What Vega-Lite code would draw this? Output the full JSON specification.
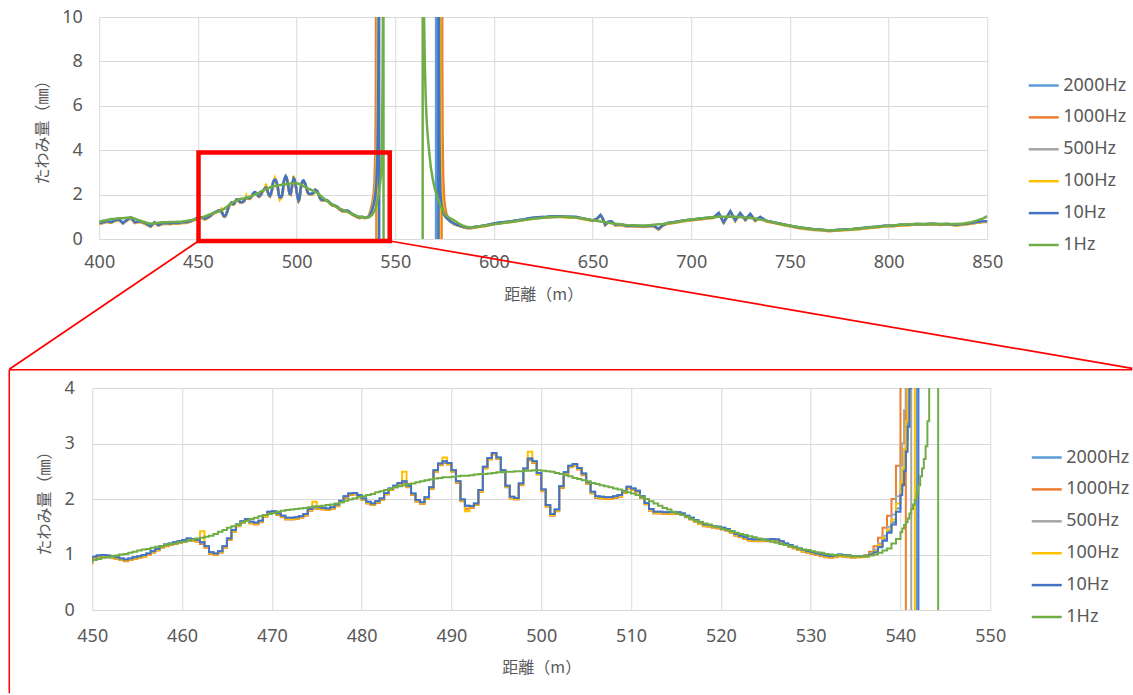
{
"$schema": "https://vega.github.io/schema/vega-lite/v6.json",
"autosize": {"type": "pad"},
"padding": {"left": 8.25, "top": 8, "right": 0, "bottom": 0},
"background": "white",
"config": {
  "view": {"stroke": null},
  "font": "Noto Sans",
  "axis": {"grid": true, "gridColor": "#D9D9D9", "gridWidth": 1, "domain": false, "ticks": false, "labelFlush": false, "labelFont": "Noto Sans", "labelFontSize": 18, "labelColor": "#595959", "titleFont": "Noto Sans CJK JP", "titleFontSize": 16, "titleFontWeight": "normal", "titleColor": "#595959"},
  "legend": {"symbolType": "stroke", "symbolSize": 900, "symbolStrokeWidth": 2.5, "labelFont": "Noto Sans", "labelFontSize": 18, "labelColor": "#595959", "labelOffset": 3, "rowPadding": 5.9, "padding": 0}
},
"datasets": {"main": [
{"d":400,"2000Hz":0.72,"1000Hz":0.69,"500Hz":0.71,"100Hz":0.70,"10Hz":0.72,"1Hz":0.78},
{"d":402,"2000Hz":0.75,"1000Hz":0.72,"500Hz":0.74,"100Hz":0.73,"10Hz":0.75,"1Hz":0.82},
{"d":404,"2000Hz":0.80,"1000Hz":0.77,"500Hz":0.79,"100Hz":0.78,"10Hz":0.80,"1Hz":0.86},
{"d":406,"2000Hz":0.76,"1000Hz":0.73,"500Hz":0.75,"100Hz":0.74,"10Hz":0.76,"1Hz":0.90},
{"d":408,"2000Hz":0.84,"1000Hz":0.81,"500Hz":0.83,"100Hz":0.82,"10Hz":0.84,"1Hz":0.91},
{"d":410,"2000Hz":0.88,"1000Hz":0.85,"500Hz":0.87,"100Hz":0.86,"10Hz":0.88,"1Hz":0.93},
{"d":412,"2000Hz":0.72,"1000Hz":0.69,"500Hz":0.71,"100Hz":0.70,"10Hz":0.72,"1Hz":0.93},
{"d":414,"2000Hz":0.86,"1000Hz":0.83,"500Hz":0.85,"100Hz":0.84,"10Hz":0.86,"1Hz":0.96},
{"d":416,"2000Hz":0.97,"1000Hz":0.94,"500Hz":0.96,"100Hz":0.95,"10Hz":0.97,"1Hz":0.98},
{"d":418,"2000Hz":0.75,"1000Hz":0.72,"500Hz":0.74,"100Hz":0.73,"10Hz":0.75,"1Hz":0.92},
{"d":420,"2000Hz":0.80,"1000Hz":0.77,"500Hz":0.79,"100Hz":0.78,"10Hz":0.80,"1Hz":0.85},
{"d":422,"2000Hz":0.76,"1000Hz":0.73,"500Hz":0.75,"100Hz":0.74,"10Hz":0.76,"1Hz":0.79},
{"d":424,"2000Hz":0.68,"1000Hz":0.65,"500Hz":0.67,"100Hz":0.66,"10Hz":0.68,"1Hz":0.73},
{"d":426,"2000Hz":0.58,"1000Hz":0.55,"500Hz":0.57,"100Hz":0.56,"10Hz":0.58,"1Hz":0.69},
{"d":428,"2000Hz":0.75,"1000Hz":0.72,"500Hz":0.74,"100Hz":0.73,"10Hz":0.75,"1Hz":0.71},
{"d":430,"2000Hz":0.63,"1000Hz":0.60,"500Hz":0.62,"100Hz":0.61,"10Hz":0.63,"1Hz":0.73},
{"d":432,"2000Hz":0.70,"1000Hz":0.67,"500Hz":0.69,"100Hz":0.68,"10Hz":0.70,"1Hz":0.75},
{"d":434,"2000Hz":0.72,"1000Hz":0.69,"500Hz":0.71,"100Hz":0.70,"10Hz":0.72,"1Hz":0.76},
{"d":436,"2000Hz":0.70,"1000Hz":0.67,"500Hz":0.69,"100Hz":0.68,"10Hz":0.70,"1Hz":0.77},
{"d":438,"2000Hz":0.73,"1000Hz":0.70,"500Hz":0.72,"100Hz":0.71,"10Hz":0.73,"1Hz":0.77},
{"d":440,"2000Hz":0.72,"1000Hz":0.69,"500Hz":0.71,"100Hz":0.70,"10Hz":0.72,"1Hz":0.78},
{"d":442,"2000Hz":0.75,"1000Hz":0.72,"500Hz":0.74,"100Hz":0.73,"10Hz":0.75,"1Hz":0.79},
{"d":444,"2000Hz":0.75,"1000Hz":0.72,"500Hz":0.74,"100Hz":0.73,"10Hz":0.75,"1Hz":0.81},
{"d":446,"2000Hz":0.80,"1000Hz":0.77,"500Hz":0.79,"100Hz":0.78,"10Hz":0.80,"1Hz":0.84},
{"d":448,"2000Hz":0.87,"1000Hz":0.84,"500Hz":0.86,"100Hz":0.85,"10Hz":0.87,"1Hz":0.87},
{"d":450.0,"2000Hz":0.96,"1000Hz":0.93,"500Hz":0.95,"100Hz":0.94,"10Hz":0.96,"1Hz":0.90},
{"d":450.5,"2000Hz":0.98,"1000Hz":0.95,"500Hz":0.97,"100Hz":0.96,"10Hz":0.98,"1Hz":0.92},
{"d":451.0,"2000Hz":0.99,"1000Hz":0.96,"500Hz":0.98,"100Hz":0.97,"10Hz":0.99,"1Hz":0.94},
{"d":451.5,"2000Hz":0.98,"1000Hz":0.95,"500Hz":0.97,"100Hz":0.96,"10Hz":0.98,"1Hz":0.95},
{"d":452.0,"2000Hz":0.97,"1000Hz":0.94,"500Hz":0.96,"100Hz":0.95,"10Hz":0.97,"1Hz":0.97},
{"d":452.5,"2000Hz":0.95,"1000Hz":0.92,"500Hz":0.94,"100Hz":0.93,"10Hz":0.95,"1Hz":0.98},
{"d":453.0,"2000Hz":0.93,"1000Hz":0.90,"500Hz":0.92,"100Hz":0.91,"10Hz":0.93,"1Hz":1.00},
{"d":453.5,"2000Hz":0.91,"1000Hz":0.88,"500Hz":0.90,"100Hz":0.89,"10Hz":0.91,"1Hz":1.01},
{"d":454.0,"2000Hz":0.93,"1000Hz":0.90,"500Hz":0.92,"100Hz":0.91,"10Hz":0.93,"1Hz":1.03},
{"d":454.5,"2000Hz":0.95,"1000Hz":0.92,"500Hz":0.94,"100Hz":0.93,"10Hz":0.95,"1Hz":1.05},
{"d":455.0,"2000Hz":0.97,"1000Hz":0.94,"500Hz":0.96,"100Hz":0.95,"10Hz":0.97,"1Hz":1.07},
{"d":455.5,"2000Hz":0.99,"1000Hz":0.96,"500Hz":0.98,"100Hz":0.97,"10Hz":0.99,"1Hz":1.09},
{"d":456.0,"2000Hz":1.02,"1000Hz":0.99,"500Hz":1.01,"100Hz":1.00,"10Hz":1.02,"1Hz":1.10},
{"d":456.5,"2000Hz":1.06,"1000Hz":1.03,"500Hz":1.05,"100Hz":1.04,"10Hz":1.06,"1Hz":1.12},
{"d":457.0,"2000Hz":1.10,"1000Hz":1.07,"500Hz":1.09,"100Hz":1.08,"10Hz":1.10,"1Hz":1.14},
{"d":457.5,"2000Hz":1.15,"1000Hz":1.12,"500Hz":1.14,"100Hz":1.13,"10Hz":1.15,"1Hz":1.15},
{"d":458.0,"2000Hz":1.18,"1000Hz":1.15,"500Hz":1.17,"100Hz":1.16,"10Hz":1.18,"1Hz":1.17},
{"d":458.5,"2000Hz":1.20,"1000Hz":1.17,"500Hz":1.19,"100Hz":1.18,"10Hz":1.20,"1Hz":1.19},
{"d":459.0,"2000Hz":1.22,"1000Hz":1.19,"500Hz":1.21,"100Hz":1.20,"10Hz":1.22,"1Hz":1.20},
{"d":459.5,"2000Hz":1.24,"1000Hz":1.21,"500Hz":1.23,"100Hz":1.22,"10Hz":1.24,"1Hz":1.22},
{"d":460.0,"2000Hz":1.26,"1000Hz":1.23,"500Hz":1.25,"100Hz":1.24,"10Hz":1.26,"1Hz":1.23},
{"d":460.5,"2000Hz":1.29,"1000Hz":1.26,"500Hz":1.28,"100Hz":1.27,"10Hz":1.29,"1Hz":1.25},
{"d":461.0,"2000Hz":1.28,"1000Hz":1.25,"500Hz":1.27,"100Hz":1.26,"10Hz":1.28,"1Hz":1.27},
{"d":461.5,"2000Hz":1.26,"1000Hz":1.23,"500Hz":1.25,"100Hz":1.24,"10Hz":1.26,"1Hz":1.29},
{"d":462.0,"2000Hz":1.22,"1000Hz":1.19,"500Hz":1.21,"100Hz":1.42,"10Hz":1.22,"1Hz":1.30},
{"d":462.5,"2000Hz":1.15,"1000Hz":1.12,"500Hz":1.14,"100Hz":1.13,"10Hz":1.15,"1Hz":1.32},
{"d":463.0,"2000Hz":1.04,"1000Hz":1.01,"500Hz":1.03,"100Hz":1.02,"10Hz":1.04,"1Hz":1.34},
{"d":463.5,"2000Hz":1.02,"1000Hz":0.99,"500Hz":1.01,"100Hz":1.00,"10Hz":1.02,"1Hz":1.37},
{"d":464.0,"2000Hz":1.06,"1000Hz":1.03,"500Hz":1.05,"100Hz":1.04,"10Hz":1.06,"1Hz":1.41},
{"d":464.5,"2000Hz":1.15,"1000Hz":1.12,"500Hz":1.14,"100Hz":1.13,"10Hz":1.15,"1Hz":1.44},
{"d":465.0,"2000Hz":1.29,"1000Hz":1.26,"500Hz":1.28,"100Hz":1.27,"10Hz":1.29,"1Hz":1.48},
{"d":465.5,"2000Hz":1.44,"1000Hz":1.41,"500Hz":1.43,"100Hz":1.42,"10Hz":1.44,"1Hz":1.51},
{"d":466.0,"2000Hz":1.54,"1000Hz":1.51,"500Hz":1.53,"100Hz":1.52,"10Hz":1.54,"1Hz":1.54},
{"d":466.5,"2000Hz":1.60,"1000Hz":1.57,"500Hz":1.59,"100Hz":1.58,"10Hz":1.60,"1Hz":1.58},
{"d":467.0,"2000Hz":1.64,"1000Hz":1.61,"500Hz":1.63,"100Hz":1.62,"10Hz":1.64,"1Hz":1.61},
{"d":467.5,"2000Hz":1.59,"1000Hz":1.56,"500Hz":1.58,"100Hz":1.57,"10Hz":1.59,"1Hz":1.64},
{"d":468.0,"2000Hz":1.57,"1000Hz":1.54,"500Hz":1.56,"100Hz":1.55,"10Hz":1.57,"1Hz":1.66},
{"d":468.5,"2000Hz":1.61,"1000Hz":1.58,"500Hz":1.60,"100Hz":1.59,"10Hz":1.61,"1Hz":1.69},
{"d":469.0,"2000Hz":1.71,"1000Hz":1.68,"500Hz":1.70,"100Hz":1.69,"10Hz":1.71,"1Hz":1.71},
{"d":469.5,"2000Hz":1.77,"1000Hz":1.74,"500Hz":1.76,"100Hz":1.75,"10Hz":1.77,"1Hz":1.73},
{"d":470.0,"2000Hz":1.78,"1000Hz":1.75,"500Hz":1.77,"100Hz":1.76,"10Hz":1.78,"1Hz":1.75},
{"d":470.5,"2000Hz":1.74,"1000Hz":1.71,"500Hz":1.73,"100Hz":1.72,"10Hz":1.74,"1Hz":1.77},
{"d":471.0,"2000Hz":1.70,"1000Hz":1.67,"500Hz":1.69,"100Hz":1.68,"10Hz":1.70,"1Hz":1.79},
{"d":471.5,"2000Hz":1.66,"1000Hz":1.63,"500Hz":1.65,"100Hz":1.64,"10Hz":1.66,"1Hz":1.80},
{"d":472.0,"2000Hz":1.66,"1000Hz":1.63,"500Hz":1.65,"100Hz":1.64,"10Hz":1.66,"1Hz":1.81},
{"d":472.5,"2000Hz":1.67,"1000Hz":1.64,"500Hz":1.66,"100Hz":1.65,"10Hz":1.67,"1Hz":1.82},
{"d":473.0,"2000Hz":1.69,"1000Hz":1.66,"500Hz":1.68,"100Hz":1.67,"10Hz":1.69,"1Hz":1.83},
{"d":473.5,"2000Hz":1.73,"1000Hz":1.70,"500Hz":1.72,"100Hz":1.71,"10Hz":1.73,"1Hz":1.84},
{"d":474.0,"2000Hz":1.82,"1000Hz":1.79,"500Hz":1.81,"100Hz":1.80,"10Hz":1.82,"1Hz":1.85},
{"d":474.5,"2000Hz":1.86,"1000Hz":1.83,"500Hz":1.85,"100Hz":1.95,"10Hz":1.86,"1Hz":1.86},
{"d":475.0,"2000Hz":1.85,"1000Hz":1.82,"500Hz":1.84,"100Hz":1.83,"10Hz":1.85,"1Hz":1.87},
{"d":475.5,"2000Hz":1.84,"1000Hz":1.81,"500Hz":1.83,"100Hz":1.82,"10Hz":1.84,"1Hz":1.88},
{"d":476.0,"2000Hz":1.83,"1000Hz":1.80,"500Hz":1.82,"100Hz":1.81,"10Hz":1.83,"1Hz":1.89},
{"d":476.5,"2000Hz":1.85,"1000Hz":1.82,"500Hz":1.84,"100Hz":1.83,"10Hz":1.85,"1Hz":1.90},
{"d":477.0,"2000Hz":1.90,"1000Hz":1.87,"500Hz":1.89,"100Hz":1.88,"10Hz":1.90,"1Hz":1.92},
{"d":477.5,"2000Hz":1.97,"1000Hz":1.94,"500Hz":1.96,"100Hz":1.95,"10Hz":1.97,"1Hz":1.94},
{"d":478.0,"2000Hz":2.05,"1000Hz":2.02,"500Hz":2.04,"100Hz":2.03,"10Hz":2.05,"1Hz":1.97},
{"d":478.5,"2000Hz":2.10,"1000Hz":2.07,"500Hz":2.09,"100Hz":2.08,"10Hz":2.10,"1Hz":1.99},
{"d":479.0,"2000Hz":2.11,"1000Hz":2.08,"500Hz":2.10,"100Hz":2.09,"10Hz":2.11,"1Hz":2.01},
{"d":479.5,"2000Hz":2.07,"1000Hz":2.04,"500Hz":2.06,"100Hz":2.05,"10Hz":2.07,"1Hz":2.03},
{"d":480.0,"2000Hz":2.01,"1000Hz":1.98,"500Hz":2.00,"100Hz":1.99,"10Hz":2.01,"1Hz":2.05},
{"d":480.5,"2000Hz":1.95,"1000Hz":1.92,"500Hz":1.94,"100Hz":1.93,"10Hz":1.95,"1Hz":2.07},
{"d":481.0,"2000Hz":1.92,"1000Hz":1.89,"500Hz":1.91,"100Hz":1.90,"10Hz":1.92,"1Hz":2.09},
{"d":481.5,"2000Hz":1.96,"1000Hz":1.93,"500Hz":1.95,"100Hz":1.94,"10Hz":1.96,"1Hz":2.12},
{"d":482.0,"2000Hz":2.01,"1000Hz":1.98,"500Hz":2.00,"100Hz":1.99,"10Hz":2.01,"1Hz":2.14},
{"d":482.5,"2000Hz":2.11,"1000Hz":2.08,"500Hz":2.10,"100Hz":2.09,"10Hz":2.11,"1Hz":2.16},
{"d":483.0,"2000Hz":2.19,"1000Hz":2.16,"500Hz":2.18,"100Hz":2.17,"10Hz":2.19,"1Hz":2.18},
{"d":483.5,"2000Hz":2.24,"1000Hz":2.21,"500Hz":2.23,"100Hz":2.22,"10Hz":2.24,"1Hz":2.21},
{"d":484.0,"2000Hz":2.29,"1000Hz":2.26,"500Hz":2.28,"100Hz":2.27,"10Hz":2.29,"1Hz":2.23},
{"d":484.5,"2000Hz":2.32,"1000Hz":2.29,"500Hz":2.31,"100Hz":2.49,"10Hz":2.32,"1Hz":2.25},
{"d":485.0,"2000Hz":2.24,"1000Hz":2.21,"500Hz":2.23,"100Hz":2.22,"10Hz":2.24,"1Hz":2.27},
{"d":485.5,"2000Hz":2.10,"1000Hz":2.07,"500Hz":2.09,"100Hz":2.08,"10Hz":2.10,"1Hz":2.28},
{"d":486.0,"2000Hz":1.98,"1000Hz":1.95,"500Hz":1.97,"100Hz":1.96,"10Hz":1.98,"1Hz":2.30},
{"d":486.5,"2000Hz":1.94,"1000Hz":1.91,"500Hz":1.93,"100Hz":1.92,"10Hz":1.94,"1Hz":2.32},
{"d":487.0,"2000Hz":2.03,"1000Hz":2.00,"500Hz":2.02,"100Hz":2.01,"10Hz":2.03,"1Hz":2.34},
{"d":487.5,"2000Hz":2.21,"1000Hz":2.18,"500Hz":2.20,"100Hz":2.19,"10Hz":2.21,"1Hz":2.35},
{"d":488.0,"2000Hz":2.52,"1000Hz":2.49,"500Hz":2.51,"100Hz":2.50,"10Hz":2.52,"1Hz":2.37},
{"d":488.5,"2000Hz":2.64,"1000Hz":2.61,"500Hz":2.63,"100Hz":2.62,"10Hz":2.64,"1Hz":2.38},
{"d":489.0,"2000Hz":2.68,"1000Hz":2.65,"500Hz":2.67,"100Hz":2.75,"10Hz":2.68,"1Hz":2.39},
{"d":489.5,"2000Hz":2.65,"1000Hz":2.62,"500Hz":2.64,"100Hz":2.63,"10Hz":2.65,"1Hz":2.39},
{"d":490.0,"2000Hz":2.52,"1000Hz":2.49,"500Hz":2.51,"100Hz":2.50,"10Hz":2.52,"1Hz":2.40},
{"d":490.5,"2000Hz":2.32,"1000Hz":2.29,"500Hz":2.31,"100Hz":2.30,"10Hz":2.32,"1Hz":2.41},
{"d":491.0,"2000Hz":1.99,"1000Hz":1.96,"500Hz":1.98,"100Hz":1.97,"10Hz":1.99,"1Hz":2.42},
{"d":491.5,"2000Hz":1.88,"1000Hz":1.82,"500Hz":1.87,"100Hz":1.78,"10Hz":1.88,"1Hz":2.42},
{"d":492.0,"2000Hz":1.87,"1000Hz":1.84,"500Hz":1.86,"100Hz":1.85,"10Hz":1.87,"1Hz":2.43},
{"d":492.5,"2000Hz":1.92,"1000Hz":1.89,"500Hz":1.91,"100Hz":1.90,"10Hz":1.92,"1Hz":2.44},
{"d":493.0,"2000Hz":2.16,"1000Hz":2.13,"500Hz":2.15,"100Hz":2.14,"10Hz":2.16,"1Hz":2.45},
{"d":493.5,"2000Hz":2.58,"1000Hz":2.55,"500Hz":2.57,"100Hz":2.56,"10Hz":2.58,"1Hz":2.45},
{"d":494.0,"2000Hz":2.74,"1000Hz":2.71,"500Hz":2.73,"100Hz":2.72,"10Hz":2.74,"1Hz":2.46},
{"d":494.5,"2000Hz":2.83,"1000Hz":2.80,"500Hz":2.82,"100Hz":2.81,"10Hz":2.83,"1Hz":2.47},
{"d":495.0,"2000Hz":2.75,"1000Hz":2.72,"500Hz":2.74,"100Hz":2.73,"10Hz":2.75,"1Hz":2.48},
{"d":495.5,"2000Hz":2.52,"1000Hz":2.49,"500Hz":2.51,"100Hz":2.50,"10Hz":2.52,"1Hz":2.48},
{"d":496.0,"2000Hz":2.24,"1000Hz":2.21,"500Hz":2.23,"100Hz":2.22,"10Hz":2.24,"1Hz":2.49},
{"d":496.5,"2000Hz":2.04,"1000Hz":2.01,"500Hz":2.03,"100Hz":2.02,"10Hz":2.04,"1Hz":2.49},
{"d":497.0,"2000Hz":2.02,"1000Hz":1.99,"500Hz":2.01,"100Hz":2.00,"10Hz":2.02,"1Hz":2.50},
{"d":497.5,"2000Hz":2.28,"1000Hz":2.25,"500Hz":2.27,"100Hz":2.26,"10Hz":2.28,"1Hz":2.50},
{"d":498.0,"2000Hz":2.55,"1000Hz":2.52,"500Hz":2.54,"100Hz":2.53,"10Hz":2.55,"1Hz":2.51},
{"d":498.5,"2000Hz":2.73,"1000Hz":2.70,"500Hz":2.72,"100Hz":2.85,"10Hz":2.73,"1Hz":2.51},
{"d":499.0,"2000Hz":2.68,"1000Hz":2.65,"500Hz":2.67,"100Hz":2.66,"10Hz":2.68,"1Hz":2.52},
{"d":499.5,"2000Hz":2.47,"1000Hz":2.44,"500Hz":2.46,"100Hz":2.45,"10Hz":2.47,"1Hz":2.52},
{"d":500.0,"2000Hz":2.17,"1000Hz":2.14,"500Hz":2.16,"100Hz":2.15,"10Hz":2.17,"1Hz":2.51},
{"d":500.5,"2000Hz":1.89,"1000Hz":1.86,"500Hz":1.88,"100Hz":1.87,"10Hz":1.89,"1Hz":2.50},
{"d":501.0,"2000Hz":1.73,"1000Hz":1.70,"500Hz":1.72,"100Hz":1.71,"10Hz":1.73,"1Hz":2.49},
{"d":501.5,"2000Hz":1.81,"1000Hz":1.78,"500Hz":1.80,"100Hz":1.79,"10Hz":1.81,"1Hz":2.47},
{"d":502.0,"2000Hz":2.23,"1000Hz":2.20,"500Hz":2.22,"100Hz":2.21,"10Hz":2.23,"1Hz":2.45},
{"d":502.5,"2000Hz":2.48,"1000Hz":2.45,"500Hz":2.47,"100Hz":2.46,"10Hz":2.48,"1Hz":2.43},
{"d":503.0,"2000Hz":2.60,"1000Hz":2.57,"500Hz":2.59,"100Hz":2.58,"10Hz":2.60,"1Hz":2.41},
{"d":503.5,"2000Hz":2.63,"1000Hz":2.60,"500Hz":2.62,"100Hz":2.61,"10Hz":2.63,"1Hz":2.38},
{"d":504.0,"2000Hz":2.56,"1000Hz":2.53,"500Hz":2.55,"100Hz":2.54,"10Hz":2.56,"1Hz":2.36},
{"d":504.5,"2000Hz":2.46,"1000Hz":2.43,"500Hz":2.45,"100Hz":2.44,"10Hz":2.46,"1Hz":2.34},
{"d":505.0,"2000Hz":2.30,"1000Hz":2.27,"500Hz":2.29,"100Hz":2.28,"10Hz":2.30,"1Hz":2.32},
{"d":505.5,"2000Hz":2.13,"1000Hz":2.10,"500Hz":2.12,"100Hz":2.11,"10Hz":2.13,"1Hz":2.29},
{"d":506.0,"2000Hz":2.05,"1000Hz":2.02,"500Hz":2.04,"100Hz":2.03,"10Hz":2.05,"1Hz":2.27},
{"d":506.5,"2000Hz":2.04,"1000Hz":2.01,"500Hz":2.03,"100Hz":2.02,"10Hz":2.04,"1Hz":2.25},
{"d":507.0,"2000Hz":2.03,"1000Hz":2.00,"500Hz":2.02,"100Hz":2.01,"10Hz":2.03,"1Hz":2.23},
{"d":507.5,"2000Hz":2.03,"1000Hz":2.00,"500Hz":2.02,"100Hz":2.01,"10Hz":2.03,"1Hz":2.21},
{"d":508.0,"2000Hz":2.05,"1000Hz":2.02,"500Hz":2.04,"100Hz":2.03,"10Hz":2.05,"1Hz":2.19},
{"d":508.5,"2000Hz":2.07,"1000Hz":2.04,"500Hz":2.06,"100Hz":2.05,"10Hz":2.07,"1Hz":2.17},
{"d":509.0,"2000Hz":2.14,"1000Hz":2.11,"500Hz":2.13,"100Hz":2.12,"10Hz":2.14,"1Hz":2.15},
{"d":509.5,"2000Hz":2.22,"1000Hz":2.19,"500Hz":2.21,"100Hz":2.20,"10Hz":2.22,"1Hz":2.12},
{"d":510.0,"2000Hz":2.19,"1000Hz":2.16,"500Hz":2.18,"100Hz":2.17,"10Hz":2.19,"1Hz":2.10},
{"d":510.5,"2000Hz":2.15,"1000Hz":2.12,"500Hz":2.14,"100Hz":2.13,"10Hz":2.15,"1Hz":2.07},
{"d":511.0,"2000Hz":2.05,"1000Hz":2.02,"500Hz":2.04,"100Hz":2.03,"10Hz":2.05,"1Hz":2.03},
{"d":511.5,"2000Hz":1.93,"1000Hz":1.90,"500Hz":1.92,"100Hz":1.91,"10Hz":1.93,"1Hz":2.00},
{"d":512.0,"2000Hz":1.82,"1000Hz":1.79,"500Hz":1.81,"100Hz":1.80,"10Hz":1.82,"1Hz":1.96},
{"d":512.5,"2000Hz":1.77,"1000Hz":1.74,"500Hz":1.76,"100Hz":1.75,"10Hz":1.77,"1Hz":1.92},
{"d":513.0,"2000Hz":1.77,"1000Hz":1.74,"500Hz":1.76,"100Hz":1.75,"10Hz":1.77,"1Hz":1.88},
{"d":513.5,"2000Hz":1.76,"1000Hz":1.73,"500Hz":1.75,"100Hz":1.74,"10Hz":1.76,"1Hz":1.84},
{"d":514.0,"2000Hz":1.76,"1000Hz":1.73,"500Hz":1.75,"100Hz":1.74,"10Hz":1.76,"1Hz":1.81},
{"d":514.5,"2000Hz":1.76,"1000Hz":1.73,"500Hz":1.75,"100Hz":1.74,"10Hz":1.76,"1Hz":1.77},
{"d":515.0,"2000Hz":1.76,"1000Hz":1.73,"500Hz":1.75,"100Hz":1.74,"10Hz":1.76,"1Hz":1.74},
{"d":515.5,"2000Hz":1.74,"1000Hz":1.71,"500Hz":1.73,"100Hz":1.72,"10Hz":1.74,"1Hz":1.71},
{"d":516.0,"2000Hz":1.70,"1000Hz":1.67,"500Hz":1.69,"100Hz":1.68,"10Hz":1.70,"1Hz":1.68},
{"d":516.5,"2000Hz":1.66,"1000Hz":1.63,"500Hz":1.65,"100Hz":1.64,"10Hz":1.66,"1Hz":1.64},
{"d":517.0,"2000Hz":1.62,"1000Hz":1.59,"500Hz":1.61,"100Hz":1.60,"10Hz":1.62,"1Hz":1.61},
{"d":517.5,"2000Hz":1.58,"1000Hz":1.55,"500Hz":1.57,"100Hz":1.56,"10Hz":1.58,"1Hz":1.58},
{"d":518.0,"2000Hz":1.54,"1000Hz":1.51,"500Hz":1.53,"100Hz":1.52,"10Hz":1.54,"1Hz":1.56},
{"d":518.5,"2000Hz":1.53,"1000Hz":1.50,"500Hz":1.52,"100Hz":1.51,"10Hz":1.53,"1Hz":1.54},
{"d":519.0,"2000Hz":1.51,"1000Hz":1.48,"500Hz":1.50,"100Hz":1.49,"10Hz":1.51,"1Hz":1.51},
{"d":519.5,"2000Hz":1.50,"1000Hz":1.47,"500Hz":1.49,"100Hz":1.48,"10Hz":1.50,"1Hz":1.49},
{"d":520.0,"2000Hz":1.48,"1000Hz":1.45,"500Hz":1.47,"100Hz":1.46,"10Hz":1.48,"1Hz":1.46},
{"d":520.5,"2000Hz":1.46,"1000Hz":1.43,"500Hz":1.45,"100Hz":1.44,"10Hz":1.46,"1Hz":1.44},
{"d":521.0,"2000Hz":1.42,"1000Hz":1.39,"500Hz":1.41,"100Hz":1.40,"10Hz":1.42,"1Hz":1.42},
{"d":521.5,"2000Hz":1.37,"1000Hz":1.34,"500Hz":1.36,"100Hz":1.35,"10Hz":1.37,"1Hz":1.39},
{"d":522.0,"2000Hz":1.34,"1000Hz":1.31,"500Hz":1.33,"100Hz":1.32,"10Hz":1.34,"1Hz":1.37},
{"d":522.5,"2000Hz":1.31,"1000Hz":1.28,"500Hz":1.30,"100Hz":1.29,"10Hz":1.31,"1Hz":1.35},
{"d":523.0,"2000Hz":1.28,"1000Hz":1.25,"500Hz":1.27,"100Hz":1.26,"10Hz":1.28,"1Hz":1.33},
{"d":523.5,"2000Hz":1.27,"1000Hz":1.24,"500Hz":1.26,"100Hz":1.25,"10Hz":1.27,"1Hz":1.31},
{"d":524.0,"2000Hz":1.27,"1000Hz":1.24,"500Hz":1.26,"100Hz":1.25,"10Hz":1.27,"1Hz":1.29},
{"d":524.5,"2000Hz":1.27,"1000Hz":1.24,"500Hz":1.26,"100Hz":1.25,"10Hz":1.27,"1Hz":1.27},
{"d":525.0,"2000Hz":1.27,"1000Hz":1.24,"500Hz":1.26,"100Hz":1.25,"10Hz":1.27,"1Hz":1.25},
{"d":525.5,"2000Hz":1.28,"1000Hz":1.25,"500Hz":1.27,"100Hz":1.26,"10Hz":1.28,"1Hz":1.23},
{"d":526.0,"2000Hz":1.27,"1000Hz":1.24,"500Hz":1.26,"100Hz":1.25,"10Hz":1.27,"1Hz":1.21},
{"d":526.5,"2000Hz":1.24,"1000Hz":1.21,"500Hz":1.23,"100Hz":1.22,"10Hz":1.24,"1Hz":1.19},
{"d":527.0,"2000Hz":1.20,"1000Hz":1.17,"500Hz":1.19,"100Hz":1.18,"10Hz":1.20,"1Hz":1.17},
{"d":527.5,"2000Hz":1.17,"1000Hz":1.14,"500Hz":1.16,"100Hz":1.15,"10Hz":1.17,"1Hz":1.15},
{"d":528.0,"2000Hz":1.14,"1000Hz":1.11,"500Hz":1.13,"100Hz":1.12,"10Hz":1.14,"1Hz":1.13},
{"d":528.5,"2000Hz":1.11,"1000Hz":1.08,"500Hz":1.10,"100Hz":1.09,"10Hz":1.11,"1Hz":1.11},
{"d":529.0,"2000Hz":1.08,"1000Hz":1.05,"500Hz":1.07,"100Hz":1.06,"10Hz":1.08,"1Hz":1.09},
{"d":529.5,"2000Hz":1.06,"1000Hz":1.03,"500Hz":1.05,"100Hz":1.04,"10Hz":1.06,"1Hz":1.08},
{"d":530.0,"2000Hz":1.04,"1000Hz":1.01,"500Hz":1.03,"100Hz":1.02,"10Hz":1.04,"1Hz":1.06},
{"d":530.5,"2000Hz":1.02,"1000Hz":0.99,"500Hz":1.01,"100Hz":1.00,"10Hz":1.02,"1Hz":1.04},
{"d":531.0,"2000Hz":1.00,"1000Hz":0.97,"500Hz":0.99,"100Hz":0.98,"10Hz":1.00,"1Hz":1.03},
{"d":531.5,"2000Hz":0.98,"1000Hz":0.95,"500Hz":0.97,"100Hz":0.96,"10Hz":0.98,"1Hz":1.01},
{"d":532.0,"2000Hz":0.97,"1000Hz":0.94,"500Hz":0.96,"100Hz":0.95,"10Hz":0.97,"1Hz":1.00},
{"d":532.5,"2000Hz":0.98,"1000Hz":0.95,"500Hz":0.97,"100Hz":0.96,"10Hz":0.98,"1Hz":0.99},
{"d":533.0,"2000Hz":1.00,"1000Hz":0.97,"500Hz":0.99,"100Hz":0.98,"10Hz":1.00,"1Hz":0.99},
{"d":533.5,"2000Hz":0.99,"1000Hz":0.96,"500Hz":0.98,"100Hz":0.97,"10Hz":0.99,"1Hz":0.98},
{"d":534.0,"2000Hz":0.98,"1000Hz":0.95,"500Hz":0.97,"100Hz":0.96,"10Hz":0.98,"1Hz":0.98},
{"d":534.5,"2000Hz":0.97,"1000Hz":0.94,"500Hz":0.96,"100Hz":0.95,"10Hz":0.97,"1Hz":0.97},
{"d":535.0,"2000Hz":0.97,"1000Hz":0.95,"500Hz":0.96,"100Hz":0.95,"10Hz":0.97,"1Hz":0.97},
{"d":535.5,"2000Hz":0.97,"1000Hz":0.97,"500Hz":0.96,"100Hz":0.95,"10Hz":0.97,"1Hz":0.97},
{"d":536.0,"2000Hz":0.98,"1000Hz":0.99,"500Hz":0.98,"100Hz":0.96,"10Hz":0.97,"1Hz":0.97},
{"d":536.5,"2000Hz":1.01,"1000Hz":1.05,"500Hz":1.02,"100Hz":1.00,"10Hz":1.00,"1Hz":0.98},
{"d":537.0,"2000Hz":1.06,"1000Hz":1.15,"500Hz":1.09,"100Hz":1.06,"10Hz":1.04,"1Hz":1.00},
{"d":537.5,"2000Hz":1.15,"1000Hz":1.30,"500Hz":1.20,"100Hz":1.17,"10Hz":1.13,"1Hz":1.03},
{"d":538.0,"2000Hz":1.28,"1000Hz":1.48,"500Hz":1.34,"100Hz":1.30,"10Hz":1.25,"1Hz":1.07},
{"d":538.5,"2000Hz":1.42,"1000Hz":1.70,"500Hz":1.50,"100Hz":1.45,"10Hz":1.39,"1Hz":1.11},
{"d":539.0,"2000Hz":1.58,"1000Hz":2.00,"500Hz":1.72,"100Hz":1.63,"10Hz":1.54,"1Hz":1.20},
{"d":539.5,"2000Hz":1.83,"1000Hz":2.60,"500Hz":2.05,"100Hz":1.92,"10Hz":1.77,"1Hz":1.28},
{"d":540.0,"2000Hz":2.16,"1000Hz":4.10,"500Hz":2.60,"100Hz":2.30,"10Hz":2.07,"1Hz":1.40},
{"d":540.2,"2000Hz":2.37,"1000Hz":7.0,"500Hz":3.00,"100Hz":2.55,"10Hz":2.25,"1Hz":1.47},
{"d":540.4,"2000Hz":2.67,"1000Hz":15,"500Hz":3.60,"100Hz":2.90,"10Hz":2.50,"1Hz":1.53},
{"d":540.6,"2000Hz":3.07,"1000Hz":-30,"500Hz":4.50,"100Hz":3.40,"10Hz":2.85,"1Hz":1.58},
{"d":540.8,"2000Hz":3.65,"1000Hz":-30,"500Hz":7.0,"100Hz":4.30,"10Hz":3.30,"1Hz":1.65},
{"d":541.0,"2000Hz":4.6,"1000Hz":-30,"500Hz":13,"100Hz":6.0,"10Hz":4.0,"1Hz":1.74},
{"d":541.2,"2000Hz":6.1,"1000Hz":-30,"500Hz":-30,"100Hz":9.0,"10Hz":5.2,"1Hz":1.82},
{"d":541.4,"2000Hz":8.5,"1000Hz":-30,"500Hz":-30,"100Hz":14,"10Hz":7.0,"1Hz":1.90},
{"d":541.6,"2000Hz":12.5,"1000Hz":-30,"500Hz":-30,"100Hz":-30,"10Hz":10,"1Hz":1.98},
{"d":541.8,"2000Hz":-30,"1000Hz":-30,"500Hz":-30,"100Hz":-30,"10Hz":15,"1Hz":2.10},
{"d":542.0,"2000Hz":-30,"1000Hz":-30,"500Hz":-30,"100Hz":-30,"10Hz":-30,"1Hz":2.25},
{"d":542.2,"2000Hz":-30,"1000Hz":-30,"500Hz":-30,"100Hz":-30,"10Hz":-30,"1Hz":2.41},
{"d":542.4,"2000Hz":-30,"1000Hz":-30,"500Hz":-30,"100Hz":-30,"10Hz":-30,"1Hz":2.55},
{"d":542.6,"2000Hz":-30,"1000Hz":-30,"500Hz":-30,"100Hz":-30,"10Hz":-30,"1Hz":2.72},
{"d":542.8,"2000Hz":-30,"1000Hz":-30,"500Hz":-30,"100Hz":-30,"10Hz":-30,"1Hz":2.95},
{"d":543.0,"2000Hz":-30,"1000Hz":-30,"500Hz":-30,"100Hz":-30,"10Hz":-30,"1Hz":3.40},
{"d":543.2,"2000Hz":-30,"1000Hz":-30,"500Hz":-30,"100Hz":-30,"10Hz":-30,"1Hz":4.20},
{"d":543.4,"2000Hz":-30,"1000Hz":-30,"500Hz":-30,"100Hz":-30,"10Hz":-30,"1Hz":5.50},
{"d":543.6,"2000Hz":-30,"1000Hz":-30,"500Hz":-30,"100Hz":-30,"10Hz":-30,"1Hz":7.50},
{"d":543.8,"2000Hz":-30,"1000Hz":-30,"500Hz":-30,"100Hz":-30,"10Hz":-30,"1Hz":11},
{"d":544.0,"2000Hz":-30,"1000Hz":-30,"500Hz":-30,"100Hz":-30,"10Hz":-30,"1Hz":17},
{"d":544.2,"2000Hz":-30,"1000Hz":-30,"500Hz":-30,"100Hz":-30,"10Hz":-30,"1Hz":-30},
{"d":546,"2000Hz":-30,"1000Hz":-30,"500Hz":-30,"100Hz":-30,"10Hz":-30,"1Hz":-30},
{"d":556,"2000Hz":-30,"1000Hz":-30,"500Hz":-30,"100Hz":-30,"10Hz":-30,"1Hz":-30},
{"d":563.8,"2000Hz":-30,"1000Hz":-30,"500Hz":-30,"100Hz":-30,"10Hz":-30,"1Hz":-30},
{"d":564.0,"2000Hz":-30,"1000Hz":-30,"500Hz":-30,"100Hz":-30,"10Hz":-30,"1Hz":40},
{"d":564.5,"2000Hz":-30,"1000Hz":-30,"500Hz":-30,"100Hz":-30,"10Hz":-30,"1Hz":10.5},
{"d":565.0,"2000Hz":-30,"1000Hz":-30,"500Hz":-30,"100Hz":-30,"10Hz":-30,"1Hz":7.8},
{"d":565.5,"2000Hz":-30,"1000Hz":-30,"500Hz":-30,"100Hz":-30,"10Hz":-30,"1Hz":6.2},
{"d":566.0,"2000Hz":-30,"1000Hz":-30,"500Hz":-30,"100Hz":-30,"10Hz":-30,"1Hz":5.2},
{"d":566.5,"2000Hz":-30,"1000Hz":-30,"500Hz":-30,"100Hz":-30,"10Hz":-30,"1Hz":4.6},
{"d":567.0,"2000Hz":-30,"1000Hz":-30,"500Hz":-30,"100Hz":-30,"10Hz":-30,"1Hz":4.1},
{"d":568.0,"2000Hz":-30,"1000Hz":-30,"500Hz":-30,"100Hz":-30,"10Hz":-30,"1Hz":3.25},
{"d":569.0,"2000Hz":-30,"1000Hz":-30,"500Hz":-30,"100Hz":-30,"10Hz":-30,"1Hz":2.7},
{"d":570.0,"2000Hz":-30,"1000Hz":-30,"500Hz":-30,"100Hz":-30,"10Hz":-30,"1Hz":2.28},
{"d":570.6,"2000Hz":-30,"1000Hz":-30,"500Hz":-30,"100Hz":-30,"10Hz":-30,"1Hz":2.10},
{"d":570.8,"2000Hz":40,"1000Hz":-30,"500Hz":-30,"100Hz":-30,"10Hz":-30,"1Hz":2.05},
{"d":571.0,"2000Hz":8,"1000Hz":-30,"500Hz":-30,"100Hz":-30,"10Hz":-30,"1Hz":1.98},
{"d":571.2,"2000Hz":4.5,"1000Hz":-30,"500Hz":-30,"100Hz":-30,"10Hz":-30,"1Hz":1.93},
{"d":571.4,"2000Hz":3.2,"1000Hz":-30,"500Hz":-30,"100Hz":-30,"10Hz":-30,"1Hz":1.88},
{"d":571.6,"2000Hz":2.6,"1000Hz":-30,"500Hz":-30,"100Hz":-30,"10Hz":-30,"1Hz":1.83},
{"d":571.8,"2000Hz":2.25,"1000Hz":-30,"500Hz":-30,"100Hz":-30,"10Hz":-30,"1Hz":1.78},
{"d":572.0,"2000Hz":2.0,"1000Hz":-30,"500Hz":-30,"100Hz":-30,"10Hz":40,"1Hz":1.73},
{"d":572.2,"2000Hz":1.85,"1000Hz":-30,"500Hz":-30,"100Hz":-30,"10Hz":8,"1Hz":1.68},
{"d":572.4,"2000Hz":1.75,"1000Hz":-30,"500Hz":40,"100Hz":-30,"10Hz":4.5,"1Hz":1.64},
{"d":572.6,"2000Hz":1.65,"1000Hz":-30,"500Hz":8,"100Hz":40,"10Hz":3.0,"1Hz":1.60},
{"d":572.8,"2000Hz":1.58,"1000Hz":-30,"500Hz":4.5,"100Hz":8,"10Hz":2.3,"1Hz":1.55},
{"d":573.0,"2000Hz":1.52,"1000Hz":-30,"500Hz":3.0,"100Hz":4.5,"10Hz":1.95,"1Hz":1.50},
{"d":573.2,"2000Hz":1.46,"1000Hz":-30,"500Hz":2.3,"100Hz":3.0,"10Hz":1.75,"1Hz":1.46},
{"d":573.4,"2000Hz":1.40,"1000Hz":-30,"500Hz":1.95,"100Hz":2.3,"10Hz":1.60,"1Hz":1.42},
{"d":573.6,"2000Hz":1.35,"1000Hz":40,"500Hz":1.72,"100Hz":1.95,"10Hz":1.48,"1Hz":1.38},
{"d":573.8,"2000Hz":1.30,"1000Hz":8,"500Hz":1.55,"100Hz":1.72,"10Hz":1.38,"1Hz":1.35},
{"d":574.0,"2000Hz":1.25,"1000Hz":4.5,"500Hz":1.42,"100Hz":1.55,"10Hz":1.30,"1Hz":1.31},
{"d":574.3,"2000Hz":1.18,"1000Hz":2.8,"500Hz":1.30,"100Hz":1.38,"10Hz":1.20,"1Hz":1.26},
{"d":574.6,"2000Hz":1.12,"1000Hz":2.1,"500Hz":1.20,"100Hz":1.25,"10Hz":1.14,"1Hz":1.21},
{"d":575.0,"2000Hz":1.05,"1000Hz":1.6,"500Hz":1.10,"100Hz":1.13,"10Hz":1.07,"1Hz":1.15},
{"d":575.5,"2000Hz":0.99,"1000Hz":1.30,"500Hz":1.02,"100Hz":1.03,"10Hz":1.00,"1Hz":1.09},
{"d":576.0,"2000Hz":0.94,"1000Hz":1.12,"500Hz":0.96,"100Hz":0.97,"10Hz":0.95,"1Hz":1.04},
{"d":577.0,"2000Hz":0.86,"1000Hz":0.92,"500Hz":0.87,"100Hz":0.88,"10Hz":0.87,"1Hz":0.98},
{"d":578.0,"2000Hz":0.78,"1000Hz":0.80,"500Hz":0.78,"100Hz":0.79,"10Hz":0.79,"1Hz":0.93},
{"d":580,"2000Hz":0.68,"1000Hz":0.66,"500Hz":0.67,"100Hz":0.66,"10Hz":0.68,"1Hz":0.83},
{"d":582,"2000Hz":0.62,"1000Hz":0.60,"500Hz":0.61,"100Hz":0.60,"10Hz":0.62,"1Hz":0.71},
{"d":584,"2000Hz":0.56,"1000Hz":0.54,"500Hz":0.55,"100Hz":0.54,"10Hz":0.56,"1Hz":0.61},
{"d":586,"2000Hz":0.52,"1000Hz":0.50,"500Hz":0.51,"100Hz":0.50,"10Hz":0.52,"1Hz":0.55},
{"d":588,"2000Hz":0.51,"1000Hz":0.49,"500Hz":0.50,"100Hz":0.49,"10Hz":0.51,"1Hz":0.52},
{"d":590,"2000Hz":0.54,"1000Hz":0.51,"500Hz":0.53,"100Hz":0.52,"10Hz":0.54,"1Hz":0.53},
{"d":593,"2000Hz":0.58,"1000Hz":0.55,"500Hz":0.57,"100Hz":0.56,"10Hz":0.58,"1Hz":0.57},
{"d":596,"2000Hz":0.62,"1000Hz":0.59,"500Hz":0.61,"100Hz":0.60,"10Hz":0.62,"1Hz":0.61},
{"d":600,"2000Hz":0.70,"1000Hz":0.67,"500Hz":0.69,"100Hz":0.68,"10Hz":0.70,"1Hz":0.66},
{"d":603,"2000Hz":0.74,"1000Hz":0.71,"500Hz":0.73,"100Hz":0.72,"10Hz":0.74,"1Hz":0.70},
{"d":606,"2000Hz":0.77,"1000Hz":0.74,"500Hz":0.76,"100Hz":0.75,"10Hz":0.77,"1Hz":0.74},
{"d":609,"2000Hz":0.80,"1000Hz":0.77,"500Hz":0.79,"100Hz":0.78,"10Hz":0.80,"1Hz":0.78},
{"d":612,"2000Hz":0.84,"1000Hz":0.81,"500Hz":0.83,"100Hz":0.82,"10Hz":0.84,"1Hz":0.82},
{"d":615,"2000Hz":0.88,"1000Hz":0.85,"500Hz":0.87,"100Hz":0.86,"10Hz":0.88,"1Hz":0.85},
{"d":618,"2000Hz":0.93,"1000Hz":0.90,"500Hz":0.92,"100Hz":0.91,"10Hz":0.93,"1Hz":0.89},
{"d":621,"2000Hz":0.97,"1000Hz":0.94,"500Hz":0.96,"100Hz":0.95,"10Hz":0.97,"1Hz":0.92},
{"d":624,"2000Hz":0.99,"1000Hz":0.96,"500Hz":0.98,"100Hz":0.97,"10Hz":0.99,"1Hz":0.95},
{"d":627,"2000Hz":1.00,"1000Hz":0.97,"500Hz":0.99,"100Hz":0.98,"10Hz":1.00,"1Hz":0.98},
{"d":630,"2000Hz":1.02,"1000Hz":0.99,"500Hz":1.01,"100Hz":1.00,"10Hz":1.02,"1Hz":0.99},
{"d":633,"2000Hz":1.03,"1000Hz":1.00,"500Hz":1.02,"100Hz":1.01,"10Hz":1.03,"1Hz":1.00},
{"d":636,"2000Hz":1.01,"1000Hz":0.98,"500Hz":1.00,"100Hz":0.99,"10Hz":1.01,"1Hz":1.00},
{"d":639,"2000Hz":1.00,"1000Hz":0.97,"500Hz":0.99,"100Hz":0.98,"10Hz":1.00,"1Hz":0.98},
{"d":642,"2000Hz":0.99,"1000Hz":0.96,"500Hz":0.98,"100Hz":0.97,"10Hz":0.99,"1Hz":0.96},
{"d":645,"2000Hz":0.93,"1000Hz":0.90,"500Hz":0.92,"100Hz":0.91,"10Hz":0.93,"1Hz":0.92},
{"d":648,"2000Hz":0.88,"1000Hz":0.85,"500Hz":0.87,"100Hz":0.86,"10Hz":0.88,"1Hz":0.88},
{"d":650,"2000Hz":0.84,"1000Hz":0.81,"500Hz":0.83,"100Hz":0.82,"10Hz":0.84,"1Hz":0.85},
{"d":652,"2000Hz":0.90,"1000Hz":0.87,"500Hz":0.89,"100Hz":0.88,"10Hz":0.90,"1Hz":0.82},
{"d":654,"2000Hz":1.08,"1000Hz":1.05,"500Hz":1.07,"100Hz":1.06,"10Hz":1.08,"1Hz":0.79},
{"d":655,"2000Hz":0.95,"1000Hz":0.92,"500Hz":0.94,"100Hz":0.93,"10Hz":0.95,"1Hz":0.78},
{"d":656.4,"2000Hz":0.65,"1000Hz":0.62,"500Hz":0.64,"100Hz":0.63,"10Hz":0.65,"1Hz":0.76},
{"d":658,"2000Hz":0.78,"1000Hz":0.75,"500Hz":0.77,"100Hz":0.76,"10Hz":0.78,"1Hz":0.73},
{"d":659.5,"2000Hz":0.80,"1000Hz":0.77,"500Hz":0.79,"100Hz":0.78,"10Hz":0.80,"1Hz":0.71},
{"d":661.5,"2000Hz":0.64,"1000Hz":0.61,"500Hz":0.63,"100Hz":0.62,"10Hz":0.64,"1Hz":0.69},
{"d":664,"2000Hz":0.66,"1000Hz":0.63,"500Hz":0.65,"100Hz":0.64,"10Hz":0.66,"1Hz":0.66},
{"d":667,"2000Hz":0.60,"1000Hz":0.57,"500Hz":0.59,"100Hz":0.58,"10Hz":0.60,"1Hz":0.63},
{"d":670,"2000Hz":0.60,"1000Hz":0.57,"500Hz":0.59,"100Hz":0.58,"10Hz":0.60,"1Hz":0.62},
{"d":673,"2000Hz":0.59,"1000Hz":0.56,"500Hz":0.58,"100Hz":0.57,"10Hz":0.59,"1Hz":0.61},
{"d":676,"2000Hz":0.57,"1000Hz":0.54,"500Hz":0.56,"100Hz":0.55,"10Hz":0.57,"1Hz":0.61},
{"d":679,"2000Hz":0.60,"1000Hz":0.57,"500Hz":0.59,"100Hz":0.58,"10Hz":0.60,"1Hz":0.62},
{"d":681,"2000Hz":0.60,"1000Hz":0.57,"500Hz":0.59,"100Hz":0.58,"10Hz":0.60,"1Hz":0.64},
{"d":683.4,"2000Hz":0.45,"1000Hz":0.42,"500Hz":0.44,"100Hz":0.43,"10Hz":0.45,"1Hz":0.66},
{"d":685.5,"2000Hz":0.62,"1000Hz":0.59,"500Hz":0.61,"100Hz":0.60,"10Hz":0.62,"1Hz":0.68},
{"d":688,"2000Hz":0.72,"1000Hz":0.69,"500Hz":0.71,"100Hz":0.70,"10Hz":0.72,"1Hz":0.71},
{"d":691,"2000Hz":0.75,"1000Hz":0.72,"500Hz":0.74,"100Hz":0.73,"10Hz":0.75,"1Hz":0.74},
{"d":694,"2000Hz":0.80,"1000Hz":0.77,"500Hz":0.79,"100Hz":0.78,"10Hz":0.80,"1Hz":0.79},
{"d":697,"2000Hz":0.84,"1000Hz":0.81,"500Hz":0.83,"100Hz":0.82,"10Hz":0.84,"1Hz":0.84},
{"d":700,"2000Hz":0.87,"1000Hz":0.84,"500Hz":0.86,"100Hz":0.85,"10Hz":0.87,"1Hz":0.88},
{"d":703,"2000Hz":0.90,"1000Hz":0.87,"500Hz":0.89,"100Hz":0.88,"10Hz":0.90,"1Hz":0.91},
{"d":706,"2000Hz":0.93,"1000Hz":0.90,"500Hz":0.92,"100Hz":0.91,"10Hz":0.93,"1Hz":0.94},
{"d":709,"2000Hz":0.96,"1000Hz":0.93,"500Hz":0.95,"100Hz":0.94,"10Hz":0.96,"1Hz":0.97},
{"d":711.5,"2000Hz":0.98,"1000Hz":0.95,"500Hz":0.97,"100Hz":0.96,"10Hz":0.98,"1Hz":0.99},
{"d":713.9,"2000Hz":1.17,"1000Hz":1.14,"500Hz":1.16,"100Hz":1.15,"10Hz":1.17,"1Hz":1.00},
{"d":716.4,"2000Hz":0.75,"1000Hz":0.72,"500Hz":0.74,"100Hz":0.73,"10Hz":0.75,"1Hz":1.00},
{"d":719.8,"2000Hz":1.25,"1000Hz":1.22,"500Hz":1.24,"100Hz":1.23,"10Hz":1.25,"1Hz":1.00},
{"d":722.3,"2000Hz":0.84,"1000Hz":0.81,"500Hz":0.83,"100Hz":0.82,"10Hz":0.84,"1Hz":1.00},
{"d":724.8,"2000Hz":1.17,"1000Hz":1.14,"500Hz":1.16,"100Hz":1.15,"10Hz":1.17,"1Hz":0.99},
{"d":727.4,"2000Hz":0.87,"1000Hz":0.84,"500Hz":0.86,"100Hz":0.85,"10Hz":0.87,"1Hz":0.97},
{"d":729.9,"2000Hz":1.13,"1000Hz":1.10,"500Hz":1.12,"100Hz":1.11,"10Hz":1.13,"1Hz":0.95},
{"d":732.4,"2000Hz":0.84,"1000Hz":0.81,"500Hz":0.83,"100Hz":0.82,"10Hz":0.84,"1Hz":0.92},
{"d":735,"2000Hz":0.99,"1000Hz":0.96,"500Hz":0.98,"100Hz":0.97,"10Hz":0.99,"1Hz":0.88},
{"d":738,"2000Hz":0.82,"1000Hz":0.79,"500Hz":0.81,"100Hz":0.80,"10Hz":0.82,"1Hz":0.82},
{"d":741,"2000Hz":0.77,"1000Hz":0.74,"500Hz":0.76,"100Hz":0.75,"10Hz":0.77,"1Hz":0.76},
{"d":744,"2000Hz":0.71,"1000Hz":0.68,"500Hz":0.70,"100Hz":0.69,"10Hz":0.71,"1Hz":0.70},
{"d":747,"2000Hz":0.65,"1000Hz":0.62,"500Hz":0.64,"100Hz":0.63,"10Hz":0.65,"1Hz":0.65},
{"d":750,"2000Hz":0.60,"1000Hz":0.57,"500Hz":0.59,"100Hz":0.58,"10Hz":0.60,"1Hz":0.60},
{"d":754,"2000Hz":0.53,"1000Hz":0.50,"500Hz":0.52,"100Hz":0.51,"10Hz":0.53,"1Hz":0.54},
{"d":758,"2000Hz":0.48,"1000Hz":0.45,"500Hz":0.47,"100Hz":0.46,"10Hz":0.48,"1Hz":0.48},
{"d":762,"2000Hz":0.44,"1000Hz":0.41,"500Hz":0.43,"100Hz":0.42,"10Hz":0.44,"1Hz":0.44},
{"d":766,"2000Hz":0.42,"1000Hz":0.39,"500Hz":0.41,"100Hz":0.40,"10Hz":0.42,"1Hz":0.41},
{"d":770,"2000Hz":0.38,"1000Hz":0.35,"500Hz":0.37,"100Hz":0.36,"10Hz":0.38,"1Hz":0.39},
{"d":774,"2000Hz":0.41,"1000Hz":0.38,"500Hz":0.40,"100Hz":0.39,"10Hz":0.41,"1Hz":0.40},
{"d":778,"2000Hz":0.43,"1000Hz":0.40,"500Hz":0.42,"100Hz":0.41,"10Hz":0.43,"1Hz":0.42},
{"d":782,"2000Hz":0.45,"1000Hz":0.42,"500Hz":0.44,"100Hz":0.43,"10Hz":0.45,"1Hz":0.45},
{"d":786,"2000Hz":0.48,"1000Hz":0.45,"500Hz":0.47,"100Hz":0.46,"10Hz":0.48,"1Hz":0.48},
{"d":790,"2000Hz":0.53,"1000Hz":0.50,"500Hz":0.52,"100Hz":0.51,"10Hz":0.53,"1Hz":0.52},
{"d":794,"2000Hz":0.55,"1000Hz":0.52,"500Hz":0.54,"100Hz":0.53,"10Hz":0.55,"1Hz":0.55},
{"d":798,"2000Hz":0.60,"1000Hz":0.57,"500Hz":0.59,"100Hz":0.58,"10Hz":0.60,"1Hz":0.58},
{"d":802,"2000Hz":0.60,"1000Hz":0.57,"500Hz":0.59,"100Hz":0.58,"10Hz":0.60,"1Hz":0.61},
{"d":806,"2000Hz":0.64,"1000Hz":0.61,"500Hz":0.63,"100Hz":0.62,"10Hz":0.64,"1Hz":0.64},
{"d":810,"2000Hz":0.65,"1000Hz":0.62,"500Hz":0.64,"100Hz":0.63,"10Hz":0.65,"1Hz":0.66},
{"d":814,"2000Hz":0.68,"1000Hz":0.65,"500Hz":0.67,"100Hz":0.66,"10Hz":0.68,"1Hz":0.67},
{"d":818,"2000Hz":0.67,"1000Hz":0.64,"500Hz":0.66,"100Hz":0.65,"10Hz":0.67,"1Hz":0.68},
{"d":822,"2000Hz":0.69,"1000Hz":0.66,"500Hz":0.68,"100Hz":0.67,"10Hz":0.69,"1Hz":0.68},
{"d":826,"2000Hz":0.66,"1000Hz":0.63,"500Hz":0.65,"100Hz":0.64,"10Hz":0.66,"1Hz":0.68},
{"d":830,"2000Hz":0.68,"1000Hz":0.65,"500Hz":0.67,"100Hz":0.66,"10Hz":0.68,"1Hz":0.68},
{"d":834,"2000Hz":0.64,"1000Hz":0.61,"500Hz":0.63,"100Hz":0.62,"10Hz":0.64,"1Hz":0.68},
{"d":838,"2000Hz":0.67,"1000Hz":0.64,"500Hz":0.66,"100Hz":0.65,"10Hz":0.67,"1Hz":0.70},
{"d":842,"2000Hz":0.72,"1000Hz":0.69,"500Hz":0.71,"100Hz":0.70,"10Hz":0.72,"1Hz":0.76},
{"d":845,"2000Hz":0.76,"1000Hz":0.73,"500Hz":0.75,"100Hz":0.74,"10Hz":0.76,"1Hz":0.84},
{"d":848,"2000Hz":0.80,"1000Hz":0.77,"500Hz":0.79,"100Hz":0.78,"10Hz":0.80,"1Hz":0.93},
{"d":850,"2000Hz":0.80,"1000Hz":0.77,"500Hz":0.79,"100Hz":0.78,"10Hz":0.80,"1Hz":1.03}
]},
"bounds": "flush",
"spacing": 371,
"resolve": {"legend": {"color": "independent"}},
"vconcat": [
  {
    "bounds": "flush",
    "spacing": 0,
    "resolve": {"legend": {"color": "independent"}},
    "hconcat": [
      {"width": 7, "height": 222, "data": {"values": []}, "mark": {"type": "point", "opacity": 0}, "encoding": {}},
      {
        "width": 888, "height": 222,
        "layer": [
          {
            "data": {"name": "main"},
            "transform": [{"fold": ["2000Hz","1000Hz","500Hz","100Hz","10Hz","1Hz"], "as": ["s","y"]}],
            "mark": {"type": "line", "clip": true, "strokeWidth": 2.5, "interpolate": "linear"},
            "encoding": {
              "x": {"field": "d", "type": "quantitative", "title": "距離（m）", "scale": {"domain": [400, 850], "nice": false, "zero": false}, "axis": {"values": [400,450,500,550,600,650,700,750,800,850], "labelPadding": 14, "titlePadding": 15}},
              "y": {"field": "y", "type": "quantitative", "title": "たわみ量（㎜）", "scale": {"domain": [0, 10], "nice": false}, "axis": {"values": [0,2,4,6,8,10], "format": "d", "labelPadding": 17, "titlePadding": 11}},
              "color": {"field": "s", "type": "nominal", "scale": {"domain": ["2000Hz","1000Hz","500Hz","100Hz","10Hz","1Hz"], "range": ["#5B9BD5","#ED7D31","#A5A5A5","#FFC000","#4472C4","#70AD47"]}, "legend": {"title": null, "orient": "none", "legendX": 928, "legendY": 52}}
            }
          },
          {
            "data": {"values": [{"x1": 450.3, "x2": 547.2, "y1": -0.09, "y2": 3.9}]},
            "mark": {"type": "rect", "filled": false, "color": "#FF0000", "strokeWidth": 4.5, "strokeJoin": "miter", "clip": false},
            "encoding": {
              "x": {"field": "x1", "type": "quantitative", "title": "距離（m）", "scale": {"domain": [400, 850], "nice": false, "zero": false}},
              "x2": {"field": "x2"},
              "y": {"field": "y1", "type": "quantitative", "title": "たわみ量（㎜）", "scale": {"domain": [0, 10], "nice": false}},
              "y2": {"field": "y2"}
            }
          },
          {
            "data": {"values": [{"x1": 450.3, "y1": -0.09, "x2": 354.39, "y2": -5.87}, {"x1": 547.2, "y1": -0.09, "x2": 923.48, "y2": -5.83}]},
            "mark": {"type": "rule", "color": "#FF0000", "strokeWidth": 1.75, "clip": false},
            "encoding": {
              "x": {"field": "x1", "type": "quantitative", "title": "距離（m）", "scale": {"domain": [400, 850], "nice": false, "zero": false}},
              "x2": {"field": "x2"},
              "y": {"field": "y1", "type": "quantitative", "title": "たわみ量（㎜）", "scale": {"domain": [0, 10], "nice": false}},
              "y2": {"field": "y2"}
            }
          }
        ]
      }
    ]
  },
  {
    "width": 898, "height": 222,
    "layer": [
      {
        "data": {"name": "main"},
        "transform": [{"filter": "datum.d >= 447 && datum.d <= 552"}, {"fold": ["2000Hz","1000Hz","500Hz","100Hz","10Hz","1Hz"], "as": ["s","y"]}],
        "mark": {"type": "line", "clip": true, "strokeWidth": 2, "interpolate": "step-after"},
        "encoding": {
          "x": {"field": "d", "type": "quantitative", "title": "距離（m）", "scale": {"domain": [450, 550], "nice": false, "zero": false}, "axis": {"values": [450,460,470,480,490,500,510,520,530,540,550], "labelPadding": 17, "titlePadding": 14}},
          "y": {"field": "y", "type": "quantitative", "title": "たわみ量（㎜）", "scale": {"domain": [0, 4], "nice": false}, "axis": {"values": [0,1,2,3,4], "format": "d", "labelPadding": 18, "titlePadding": 11}},
          "color": {"field": "s", "type": "nominal", "scale": {"domain": ["2000Hz","1000Hz","500Hz","100Hz","10Hz","1Hz"], "range": ["#5B9BD5","#ED7D31","#A5A5A5","#FFC000","#4472C4","#70AD47"]}, "legend": {"title": null, "orient": "none", "legendX": 938, "legendY": 53}}
        }
      },
      {
        "data": {"values": [{"x1": 440.76, "y1": 4.33, "x2": 440.76, "y2": -1.5}, {"x1": 440.76, "y1": 4.33, "x2": 565.81, "y2": 4.33}]},
        "mark": {"type": "rule", "color": "#FF0000", "strokeWidth": 1.5, "clip": false},
        "encoding": {
          "x": {"field": "x1", "type": "quantitative", "title": "距離（m）", "scale": {"domain": [450, 550], "nice": false, "zero": false}},
          "x2": {"field": "x2"},
          "y": {"field": "y1", "type": "quantitative", "title": "たわみ量（㎜）", "scale": {"domain": [0, 4], "nice": false}},
          "y2": {"field": "y2"}
        }
      }
    ]
  }
]
}
